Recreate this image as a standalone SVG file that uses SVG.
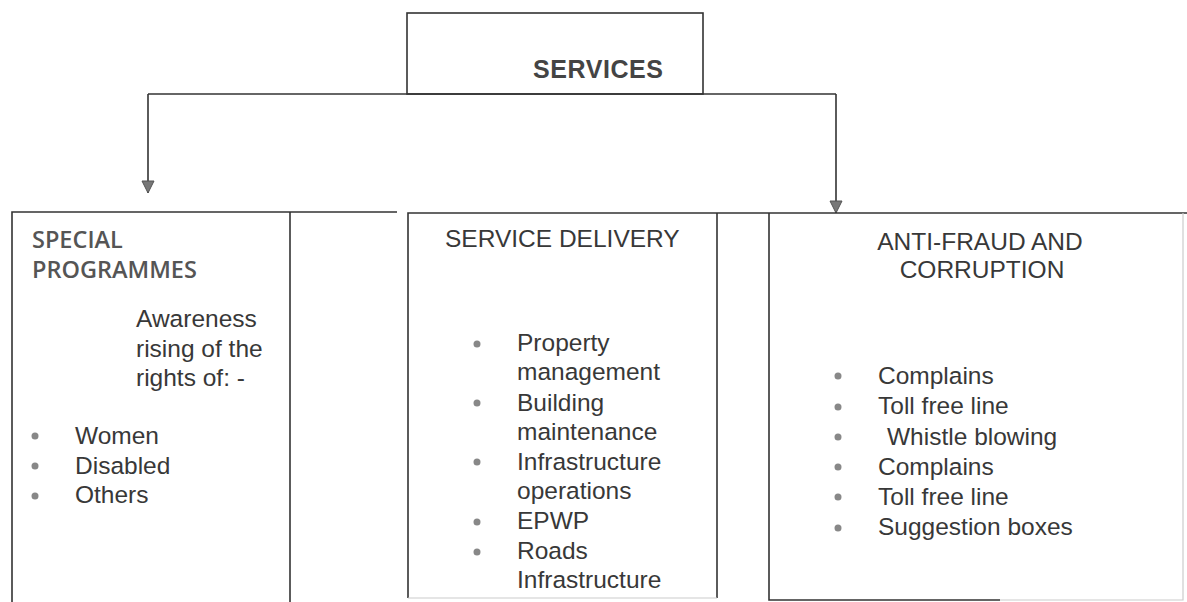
<svg xmlns="http://www.w3.org/2000/svg" width="1187" height="602" viewBox="0 0 1187 602">
<defs>
<style>
.ln{stroke:#333;stroke-width:1.6;fill:none}
.fl{stroke:#ccc;stroke-width:1.2;fill:none}
.t{font-family:"Liberation Sans",Arial,sans-serif;font-size:24.5px;fill:#383838}
.h{font-family:"Liberation Sans",Arial,sans-serif;font-size:25px;font-weight:bold;fill:#444}
.c{font-family:"Open Sans","Noto Sans",sans-serif;font-size:23.5px;font-weight:600;fill:#555}
.b{fill:#888}
</style>
<marker id="ah" markerWidth="14" markerHeight="14" refX="13" refY="7" orient="auto" markerUnits="userSpaceOnUse" viewBox="0 0 14 14">
<path d="M1,1 L13,7 L1,13 Z" fill="#777" stroke="#555" stroke-width="1"/>
</marker>
</defs>
<rect width="1187" height="602" fill="#fff"/>

<g id="connectors">
<path class="ln" d="M148,94 L836,94"/>
<path class="ln" d="M148,94 L148,193" marker-end="url(#ah)"/>
<path class="ln" d="M836,94 L836,213" marker-end="url(#ah)"/>
</g>

<g id="services">
<rect class="ln" x="407" y="13" width="296" height="81"/>
<text class="h" x="533" y="78" textLength="130">SERVICES</text>
</g>

<g id="special-programmes">
<path class="ln" d="M12,602 L12,212 L397,212"/>
<path class="ln" d="M290,212 L290,602"/>
<text class="c" x="32" y="248">SPECIAL</text>
<text class="c" x="32" y="278">PROGRAMMES</text>
<text class="t" x="136" y="327">Awareness</text>
<text class="t" x="136" y="357">rising of the</text>
<text class="t" x="136" y="386">rights of: -</text>
<circle class="b" cx="35" cy="436" r="3.5"/>
<text class="t" x="75" y="444">Women</text>
<circle class="b" cx="35" cy="466" r="3.5"/>
<text class="t" x="75" y="474">Disabled</text>
<circle class="b" cx="35" cy="496" r="3.5"/>
<text class="t" x="75" y="503">Others</text>
</g>

<g id="service-delivery">
<path class="ln" d="M408,598 L408,213 L1187,213"/>
<path class="ln" d="M717,213 L717,598"/>
<path class="fl" d="M408,598 L717,598"/>
<text class="t" x="445" y="247">SERVICE DELIVERY</text>
<circle class="b" cx="477" cy="344" r="3.5"/>
<text class="t" x="517" y="351">Property</text>
<text class="t" x="517" y="380">management</text>
<circle class="b" cx="477" cy="403" r="3.5"/>
<text class="t" x="517" y="411">Building</text>
<text class="t" x="517" y="440">maintenance</text>
<circle class="b" cx="477" cy="462" r="3.5"/>
<text class="t" x="517" y="470">Infrastructure</text>
<text class="t" x="517" y="499">operations</text>
<circle class="b" cx="477" cy="522" r="3.5"/>
<text class="t" x="517" y="529">EPWP</text>
<circle class="b" cx="477" cy="552" r="3.5"/>
<text class="t" x="517" y="559">Roads</text>
<text class="t" x="517" y="588">Infrastructure</text>
</g>

<g id="anti-fraud">
<path class="ln" d="M769,213 L769,600 L1000,600"/>
<path class="fl" d="M1000,600 L1183,600 L1183,213"/>
<text class="t" x="980" y="250" text-anchor="middle">ANTI-FRAUD AND</text>
<text class="t" x="982" y="278" text-anchor="middle">CORRUPTION</text>
<circle class="b" cx="838" cy="376" r="3.5"/>
<text class="t" x="878" y="384">Complains</text>
<circle class="b" cx="838" cy="407" r="3.5"/>
<text class="t" x="878" y="414">Toll free line</text>
<circle class="b" cx="838" cy="437" r="3.5"/>
<text class="t" x="887" y="445">Whistle blowing</text>
<circle class="b" cx="838" cy="467" r="3.5"/>
<text class="t" x="878" y="475">Complains</text>
<circle class="b" cx="838" cy="497" r="3.5"/>
<text class="t" x="878" y="505">Toll free line</text>
<circle class="b" cx="838" cy="528" r="3.5"/>
<text class="t" x="878" y="535">Suggestion boxes</text>
</g>
</svg>
